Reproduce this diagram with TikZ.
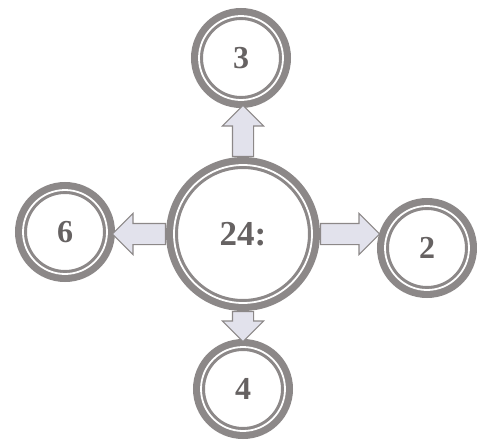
\documentclass[tikz,border=0pt]{standalone}
\usepackage{fontspec}
\setmainfont{Liberation Serif}
\usetikzlibrary{calc,shapes.arrows}
\definecolor{ringgray}{HTML}{8C8888}
\definecolor{numgray}{HTML}{666262}
\definecolor{arrowfill}{HTML}{E2E2EC}
\tikzset{
 ring/.style={circle,draw=ringgray,line width=12pt,inner sep=0pt,text=numgray,font=\fontsize{32}{32}\selectfont\bfseries},
 innerline/.style={white,line width=1.8pt},
 blockarrow/.style={single arrow,draw=ringgray,fill=arrowfill,line width=1.1pt,inner xsep=0pt,inner ysep=10pt,single arrow head extend=10pt,anchor=tail}}
% block arrow between two points
\newcommand\linkarrow[2]{\path let \p1=(#1), \p2=(#2), \n1={atan2(\y2-\y1,\x2-\x1)}, \n2={veclen(\x2-\x1,\y2-\y1)+2} in node[blockarrow,minimum height=\n2,rotate=\n1] at (\p1) {};}

\begin{document}
\begin{tikzpicture}[x=1pt,y=-1pt]
 \useasboundingbox (0,0) rectangle (477,442);
 \node[ring,minimum size=142pt,font=\fontsize{35}{35}\selectfont\bfseries] (c) at (243,234) {24:};
 \node[ring,minimum size=88pt] (n3) at (241,58) {3};
 \node[ring,minimum size=88pt] (n6) at (65,232) {6};
 \node[ring,minimum size=88pt] (n2) at (427,248) {2};
 \node[ring,minimum size=88pt] (n4) at (243,389) {4};
 \foreach \nd in {c,n3,n6,n2,n4}
  \draw[innerline] let \p1=($(\nd.north)-(\nd.center)$) in (\nd.center) circle ({veclen(\x1,\y1)-8});
 \linkarrow{c.north}{c.north |- n3.south}
 \linkarrow{c.west}{n6.east |- c.west}
 \linkarrow{c.east}{n2.west |- c.east}
 \linkarrow{c.south}{c.south |- n4.north}
\end{tikzpicture}
\end{document}
